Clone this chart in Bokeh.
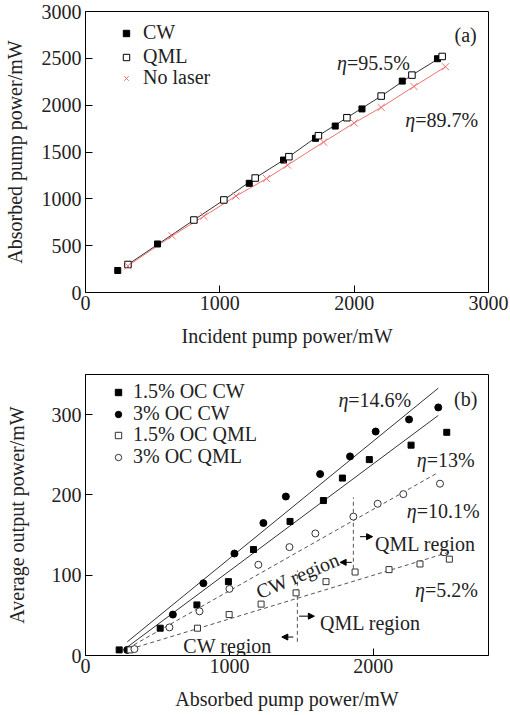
from bokeh.plotting import figure
from bokeh.models import (Legend, LegendItem, Label, Arrow, NormalHead,
                          FixedTicker, Range1d)
from bokeh.layouts import column
from bokeh.embed import file_html
from bokeh.resources import INLINE

FONT = "Liberation Serif"
TXT = "#222222"
RED = "#f07070"

# ---------------- panel (a) data ----------------
cw_in = [240, 536, 1219, 1474, 1712, 1859, 2058, 2358, 2620]
cw_abs = [235, 518, 1166, 1414, 1646, 1777, 1960, 2257, 2496]
qml_in = [316, 807, 1030, 1263, 1514, 1734, 1946, 2201, 2430, 2655]
qml_abs = [299, 774, 988, 1222, 1450, 1674, 1866, 2097, 2321, 2520]
nolaser_in = [316, 645, 881, 1120, 1348, 1504, 1772, 2000, 2201, 2445, 2680]
nolaser_abs = [285, 605, 814, 1030, 1216, 1360, 1606, 1810, 1976, 2200, 2410]
a_xticks = [0, 1000, 2000, 3000]
a_yticks = [0, 500, 1000, 1500, 2000, 2500, 3000]

# ---------------- panel (b) data ----------------
oc15_cw_x = [234, 519, 774, 993, 1167, 1421, 1653, 1785, 1972, 2262, 2510]
oc15_cw_y = [7, 34, 63, 92, 132, 167, 193, 221, 244, 262, 278]
oc3_cw_x = [290, 607, 819, 1035, 1236, 1392, 1630, 1838, 2016, 2248, 2451]
oc3_cw_y = [7, 51, 90, 127, 165, 198, 226, 248, 279, 294, 309]
oc15_qml_x = [310, 778, 998, 1220, 1463, 1671, 1873, 2109, 2324, 2528]
oc15_qml_y = [7, 34, 51, 64, 78, 92, 104, 107, 114, 120]
oc3_qml_x = [340, 583, 792, 1000, 1201, 1417, 1597, 1861, 2030, 2208, 2463]
oc3_qml_y = [8, 35, 55, 83, 113, 135, 152, 173, 189, 201, 214]
# linear fits (end points)
fit_cw3_x, fit_cw3_y = [290, 2451], [17, 333]
fit_cw15_x, fit_cw15_y = [294, 2451], [11, 299]
fit_qml3_x, fit_qml3_y = [294, 2451], [9, 228]
fit_qml15_x, fit_qml15_y = [310, 2533], [8, 129]
# CW -> QML transition markers (1.5% OC, 3% OC)
trans_x = [1472, 1861]
trans_y0 = [17, 108]
trans_y1 = [106, 197]
b_xticks = [0, 1000, 2000]
b_yticks = [0, 100, 200, 300]


def make_fig(height, xr, yr, xticks, yticks, xlabel, ylabel, bt, bb, ylab_standoff):
    p = figure(width=510, height=height, x_range=Range1d(*xr), y_range=Range1d(*yr),
               output_backend="svg", toolbar_location=None,
               min_border_left=85, min_border_right=22,
               min_border_top=bt, min_border_bottom=bb)
    p.grid.visible = False
    p.outline_line_color = "black"
    p.outline_line_width = 1
    p.outline_line_alpha = 1
    p.background_fill_color = "white"
    p.border_fill_color = "white"
    p.xaxis.ticker = FixedTicker(ticks=xticks)
    p.yaxis.ticker = FixedTicker(ticks=yticks)
    p.xaxis.axis_label = xlabel
    p.yaxis.axis_label = ylabel
    for ax in (p.xaxis[0], p.yaxis[0]):
        ax.major_tick_in = 7
        ax.major_tick_out = 0
        ax.minor_tick_in = 0
        ax.minor_tick_out = 0
        ax.axis_line_color = "black"
        ax.major_tick_line_color = "black"
        ax.major_label_text_font = FONT
        ax.major_label_text_font_size = "20px"
        ax.major_label_text_color = TXT
        ax.axis_label_text_font = FONT
        ax.axis_label_text_font_size = "20px"
        ax.axis_label_text_font_style = "normal"
        ax.axis_label_text_color = TXT
    p.yaxis[0].major_label_standoff = 4
    p.yaxis[0].axis_label_standoff = ylab_standoff
    p.xaxis[0].major_label_standoff = 3
    p.xaxis[0].axis_label_standoff = 12
    return p


def eta_label(p, x, y, val):
    p.add_layout(Label(x=x, y=y, text="\u03b7", text_font=FONT, text_font_style="italic",
                       text_font_size="20px", text_color=TXT, text_align="right",
                       text_baseline="alphabetic"))
    p.add_layout(Label(x=x, y=y, text="=" + val, text_font=FONT,
                       text_font_size="20px", text_color=TXT, text_align="left",
                       text_baseline="alphabetic"))


def text_label(p, x, y, txt, align="left", angle=0):
    p.add_layout(Label(x=x, y=y, text=txt, text_font=FONT, text_font_size="20px",
                       text_color=TXT, text_align=align, text_baseline="alphabetic",
                       angle=angle, angle_units="deg"))


def add_legend_rows(p, entries, x0, ys, standoff):
    # one single-row legend per entry so that the row pitch matches the reference
    for (label, rend), y in zip(entries, ys):
        p.add_layout(Legend(items=[LegendItem(label=label, renderers=[rend])],
                            location=(x0, y), margin=0, padding=0, spacing=0,
                            glyph_width=16, glyph_height=20, label_height=20,
                            label_standoff=standoff, label_text_font=FONT,
                            label_text_font_size="20px", label_text_color=TXT,
                            label_text_line_height=1.0,
                            border_line_alpha=0, background_fill_alpha=0))


# ---------------- panel (a) ----------------
p1 = make_fig(352, (0, 3000), (0, 3000), a_xticks, a_yticks,
              "Incident pump power/mW", "Absorbed pump power/mW", 11, 60, 13)
p1.line(qml_in, qml_abs, line_color="#333333", line_width=1)
p1.line(nolaser_in, nolaser_abs, line_color=RED, line_width=1)
r_cw = p1.scatter(cw_in, cw_abs, marker="square", size=6, fill_color="black",
                  line_color="black")
r_qml = p1.scatter(qml_in, qml_abs, marker="square", size=6.5, fill_color="white",
                   line_color="black", line_width=1)
r_nl = p1.scatter(nolaser_in, nolaser_abs, marker="x", size=10, line_color=RED,
                  line_width=1)
add_legend_rows(p1, [("CW", r_cw), ("QML", r_qml), ("No laser", r_nl)],
                33, [248, 224, 203], 9)
eta_label(p1, 1946, 2449, "95.5%")
eta_label(p1, 2454, 1838, "89.7%")
text_label(p1, 2830, 2744, "(a)", align="center")

# ---------------- panel (b) ----------------
p2 = make_fig(363, (0, 2800), (0, 350), b_xticks, b_yticks,
              "Absorbed pump power/mW", "Average output power/mW", 22, 60, 21)
p2.line(fit_cw3_x, fit_cw3_y, line_color="#333333", line_width=1)
p2.line(fit_cw15_x, fit_cw15_y, line_color="#333333", line_width=1)
p2.line(fit_qml3_x, fit_qml3_y, line_color="#555555", line_width=1, line_dash="4 3")
p2.line(fit_qml15_x, fit_qml15_y, line_color="#555555", line_width=1, line_dash="4 3")
p2.segment(x0=trans_x, y0=trans_y0, x1=trans_x, y1=trans_y1, line_color="#555555",
           line_width=1, line_dash="4 3")
r1 = p2.scatter(oc15_cw_x, oc15_cw_y, marker="square", size=6, fill_color="black",
                line_color="black")
r2 = p2.scatter(oc3_cw_x, oc3_cw_y, marker="circle", size=7, fill_color="black",
                line_color="black")
r3 = p2.scatter(oc15_qml_x, oc15_qml_y, marker="square", size=6, fill_color="white",
                line_color="#333333", line_width=1)
r4 = p2.scatter(oc3_qml_x, oc3_qml_y, marker="circle", size=7, fill_color="white",
                line_color="#333333", line_width=1)
add_legend_rows(p2, [("1.5% OC CW", r1), ("3% OC CW", r2),
                     ("1.5% OC QML", r3), ("3% OC QML", r4)],
                25, [252, 230, 209, 187], 7)
eta_label(p2, 1826, 318, "14.6%")
eta_label(p2, 2371, 244, "13%")
eta_label(p2, 2301, 180, "10.1%")
eta_label(p2, 2359, 81, "5.2%")
text_label(p2, 2642, 320, "(b)", align="center")
text_label(p2, 2012, 139, "QML region")
text_label(p2, 1630, 41, "QML region")
text_label(p2, 680, 12, "CW region")
text_label(p2, 1192, 78, "CW region", angle=23)

head = dict(size=6, fill_color="black", line_color="black", line_width=1)
for xs, xe, y in [(1907, 1995, 148), (1850, 1769, 116), (1484, 1590, 49), (1444, 1364, 23)]:
    p2.add_layout(Arrow(x_start=xs, y_start=y, x_end=xe, y_end=y, line_width=1,
                        line_color="black", end=NormalHead(**head)))

layout = column(p1, p2)
open("out.html", "w").write(file_html(layout, INLINE))
